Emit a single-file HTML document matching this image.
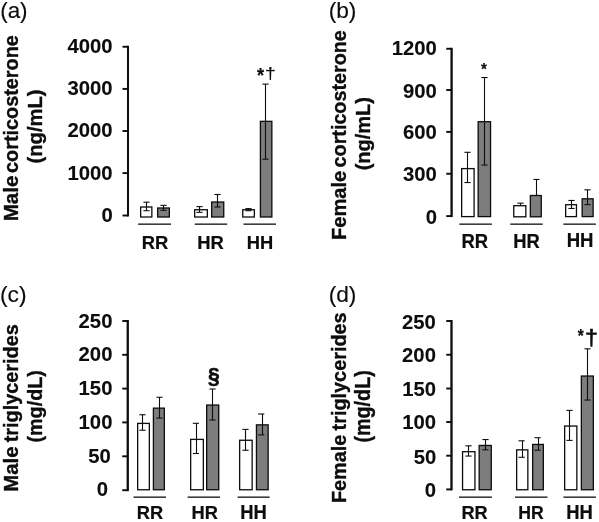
<!DOCTYPE html>
<html lang="en">
<head>
<meta charset="utf-8">
<title>Figure</title>
<style>
html,body{margin:0;padding:0;background:#fff;}
body{width:599px;height:522px;overflow:hidden;}
svg{display:block;}
svg text{font-family:"Liberation Sans", Arial, Helvetica, sans-serif;font-size:20px;fill:#0a0a0a;stroke:#0a0a0a;stroke-width:0.22px;stroke-linejoin:round;}
svg text.n{stroke-width:0.12px;}
svg text.t{stroke-width:0.34px;}
svg text.d{stroke-width:0.08px;}
svg text.s{stroke-width:0.55px;}
</style>
</head>
<body>
<svg width="599" height="522" viewBox="0 0 599 522">
<defs><filter id="soft" x="0" y="0" width="599" height="522" filterUnits="userSpaceOnUse"><feGaussianBlur stdDeviation="0.38"/></filter></defs>
<rect x="0" y="0" width="599" height="522" fill="#ffffff"/>
<g filter="url(#soft)">
<rect x="0" y="0" width="599" height="522" fill="#ffffff"/>
<g shape-rendering="geometricPrecision">
<rect x="127.00" y="45.80" width="2.00" height="170.65" fill="#0a0a0a"/>
<rect x="122.50" y="45.80" width="5.50" height="1.90" fill="#0a0a0a"/>
<rect x="122.50" y="87.95" width="5.50" height="1.90" fill="#0a0a0a"/>
<rect x="122.50" y="130.05" width="5.50" height="1.90" fill="#0a0a0a"/>
<rect x="122.50" y="172.15" width="5.50" height="1.90" fill="#0a0a0a"/>
<rect x="122.50" y="214.55" width="5.50" height="1.90" fill="#0a0a0a"/>
<rect x="450.45" y="47.80" width="2.30" height="169.25" fill="#0a0a0a"/>
<rect x="446.25" y="47.80" width="5.35" height="1.90" fill="#0a0a0a"/>
<rect x="446.25" y="89.05" width="5.35" height="1.90" fill="#0a0a0a"/>
<rect x="446.25" y="130.95" width="5.35" height="1.90" fill="#0a0a0a"/>
<rect x="446.25" y="172.80" width="5.35" height="1.90" fill="#0a0a0a"/>
<rect x="446.25" y="215.15" width="5.35" height="1.90" fill="#0a0a0a"/>
<rect x="126.60" y="320.05" width="2.30" height="171.10" fill="#0a0a0a"/>
<rect x="122.25" y="320.05" width="5.50" height="1.90" fill="#0a0a0a"/>
<rect x="122.25" y="353.85" width="5.50" height="1.90" fill="#0a0a0a"/>
<rect x="122.25" y="387.65" width="5.50" height="1.90" fill="#0a0a0a"/>
<rect x="122.25" y="421.45" width="5.50" height="1.90" fill="#0a0a0a"/>
<rect x="122.25" y="455.35" width="5.50" height="1.90" fill="#0a0a0a"/>
<rect x="122.25" y="489.25" width="5.50" height="1.90" fill="#0a0a0a"/>
<rect x="450.35" y="320.05" width="2.30" height="170.30" fill="#0a0a0a"/>
<rect x="446.25" y="320.05" width="5.25" height="1.90" fill="#0a0a0a"/>
<rect x="446.25" y="353.80" width="5.25" height="1.90" fill="#0a0a0a"/>
<rect x="446.25" y="387.55" width="5.25" height="1.90" fill="#0a0a0a"/>
<rect x="446.25" y="421.05" width="5.25" height="1.90" fill="#0a0a0a"/>
<rect x="446.25" y="454.75" width="5.25" height="1.90" fill="#0a0a0a"/>
<rect x="446.25" y="488.45" width="5.25" height="1.90" fill="#0a0a0a"/>
<rect x="140.65" y="207.00" width="11.20" height="10.00" fill="#ffffff" stroke="#0a0a0a" stroke-width="1.3"/>
<line x1="146.50" y1="202.20" x2="146.50" y2="210.70" stroke="#101010" stroke-width="1.1"/>
<line x1="143.40" y1="202.20" x2="149.60" y2="202.20" stroke="#101010" stroke-width="1.1"/>
<line x1="143.40" y1="210.70" x2="149.60" y2="210.70" stroke="#101010" stroke-width="1.1"/>
<rect x="157.65" y="208.00" width="11.70" height="9.00" fill="#7d7d7d" stroke="#0a0a0a" stroke-width="1.3"/>
<line x1="163.50" y1="205.35" x2="163.50" y2="210.35" stroke="#101010" stroke-width="1.1"/>
<line x1="160.40" y1="205.35" x2="166.60" y2="205.35" stroke="#101010" stroke-width="1.1"/>
<line x1="160.40" y1="210.35" x2="166.60" y2="210.35" stroke="#101010" stroke-width="1.1"/>
<rect x="194.65" y="209.75" width="12.70" height="7.25" fill="#ffffff" stroke="#0a0a0a" stroke-width="1.3"/>
<line x1="199.50" y1="206.60" x2="199.50" y2="212.35" stroke="#101010" stroke-width="1.1"/>
<line x1="196.40" y1="206.60" x2="202.60" y2="206.60" stroke="#101010" stroke-width="1.1"/>
<line x1="196.40" y1="212.35" x2="202.60" y2="212.35" stroke="#101010" stroke-width="1.1"/>
<rect x="211.65" y="202.00" width="12.10" height="15.00" fill="#7d7d7d" stroke="#0a0a0a" stroke-width="1.3"/>
<line x1="217.50" y1="194.50" x2="217.50" y2="207.00" stroke="#101010" stroke-width="1.1"/>
<line x1="214.40" y1="194.50" x2="220.60" y2="194.50" stroke="#101010" stroke-width="1.1"/>
<line x1="214.40" y1="207.00" x2="220.60" y2="207.00" stroke="#101010" stroke-width="1.1"/>
<rect x="242.75" y="209.75" width="11.60" height="7.25" fill="#ffffff" stroke="#0a0a0a" stroke-width="1.3"/>
<line x1="248.50" y1="208.60" x2="248.50" y2="210.70" stroke="#101010" stroke-width="1.1"/>
<line x1="245.40" y1="208.60" x2="251.60" y2="208.60" stroke="#101010" stroke-width="1.1"/>
<line x1="245.40" y1="210.70" x2="251.60" y2="210.70" stroke="#101010" stroke-width="1.1"/>
<rect x="260.40" y="121.35" width="11.45" height="95.65" fill="#7d7d7d" stroke="#0a0a0a" stroke-width="1.3"/>
<line x1="265.50" y1="84.10" x2="265.50" y2="159.20" stroke="#101010" stroke-width="1.1"/>
<line x1="262.40" y1="84.10" x2="268.60" y2="84.10" stroke="#101010" stroke-width="1.1"/>
<line x1="262.40" y1="159.20" x2="268.60" y2="159.20" stroke="#101010" stroke-width="1.1"/>
<rect x="461.65" y="168.60" width="12.45" height="48.00" fill="#ffffff" stroke="#0a0a0a" stroke-width="1.3"/>
<line x1="467.50" y1="152.30" x2="467.50" y2="182.55" stroke="#101010" stroke-width="1.1"/>
<line x1="464.40" y1="152.30" x2="470.60" y2="152.30" stroke="#101010" stroke-width="1.1"/>
<line x1="464.40" y1="182.55" x2="470.60" y2="182.55" stroke="#101010" stroke-width="1.1"/>
<rect x="478.15" y="121.70" width="12.40" height="94.90" fill="#7d7d7d" stroke="#0a0a0a" stroke-width="1.3"/>
<line x1="484.50" y1="77.55" x2="484.50" y2="165.05" stroke="#101010" stroke-width="1.1"/>
<line x1="481.40" y1="77.55" x2="487.60" y2="77.55" stroke="#101010" stroke-width="1.1"/>
<line x1="481.40" y1="165.05" x2="487.60" y2="165.05" stroke="#101010" stroke-width="1.1"/>
<rect x="513.75" y="205.70" width="12.10" height="11.10" fill="#ffffff" stroke="#0a0a0a" stroke-width="1.3"/>
<line x1="520.50" y1="203.15" x2="520.50" y2="205.55" stroke="#101010" stroke-width="1.1"/>
<line x1="517.40" y1="203.15" x2="523.60" y2="203.15" stroke="#101010" stroke-width="1.1"/>
<rect x="530.35" y="195.50" width="10.90" height="21.30" fill="#7d7d7d" stroke="#0a0a0a" stroke-width="1.3"/>
<line x1="536.50" y1="179.45" x2="536.50" y2="195.55" stroke="#101010" stroke-width="1.1"/>
<line x1="533.40" y1="179.45" x2="539.60" y2="179.45" stroke="#101010" stroke-width="1.1"/>
<rect x="565.65" y="204.70" width="10.80" height="11.90" fill="#ffffff" stroke="#0a0a0a" stroke-width="1.3"/>
<line x1="571.50" y1="200.45" x2="571.50" y2="208.45" stroke="#101010" stroke-width="1.1"/>
<line x1="568.40" y1="200.45" x2="574.60" y2="200.45" stroke="#101010" stroke-width="1.1"/>
<line x1="568.40" y1="208.45" x2="574.60" y2="208.45" stroke="#101010" stroke-width="1.1"/>
<rect x="582.15" y="198.80" width="10.95" height="17.80" fill="#7d7d7d" stroke="#0a0a0a" stroke-width="1.3"/>
<line x1="587.50" y1="189.80" x2="587.50" y2="204.65" stroke="#101010" stroke-width="1.1"/>
<line x1="584.40" y1="189.80" x2="590.60" y2="189.80" stroke="#101010" stroke-width="1.1"/>
<line x1="584.40" y1="204.65" x2="590.60" y2="204.65" stroke="#101010" stroke-width="1.1"/>
<rect x="137.65" y="423.40" width="11.70" height="66.35" fill="#ffffff" stroke="#0a0a0a" stroke-width="1.3"/>
<line x1="142.50" y1="414.75" x2="142.50" y2="430.25" stroke="#101010" stroke-width="1.1"/>
<line x1="139.40" y1="414.75" x2="145.60" y2="414.75" stroke="#101010" stroke-width="1.1"/>
<line x1="139.40" y1="430.25" x2="145.60" y2="430.25" stroke="#101010" stroke-width="1.1"/>
<rect x="153.40" y="408.15" width="10.95" height="81.60" fill="#7d7d7d" stroke="#0a0a0a" stroke-width="1.3"/>
<line x1="159.50" y1="397.25" x2="159.50" y2="418.10" stroke="#101010" stroke-width="1.1"/>
<line x1="156.40" y1="397.25" x2="162.60" y2="397.25" stroke="#101010" stroke-width="1.1"/>
<line x1="156.40" y1="418.10" x2="162.60" y2="418.10" stroke="#101010" stroke-width="1.1"/>
<rect x="190.65" y="439.40" width="12.70" height="50.35" fill="#ffffff" stroke="#0a0a0a" stroke-width="1.3"/>
<line x1="196.50" y1="423.30" x2="196.50" y2="453.50" stroke="#101010" stroke-width="1.1"/>
<line x1="192.80" y1="423.30" x2="199.00" y2="423.30" stroke="#101010" stroke-width="1.1"/>
<line x1="192.80" y1="453.50" x2="199.00" y2="453.50" stroke="#101010" stroke-width="1.1"/>
<rect x="206.65" y="405.05" width="12.10" height="84.70" fill="#7d7d7d" stroke="#0a0a0a" stroke-width="1.3"/>
<line x1="212.50" y1="389.00" x2="212.50" y2="420.00" stroke="#101010" stroke-width="1.1"/>
<line x1="209.40" y1="389.00" x2="215.60" y2="389.00" stroke="#101010" stroke-width="1.1"/>
<line x1="209.40" y1="420.00" x2="215.60" y2="420.00" stroke="#101010" stroke-width="1.1"/>
<rect x="239.65" y="440.25" width="12.50" height="49.50" fill="#ffffff" stroke="#0a0a0a" stroke-width="1.3"/>
<line x1="245.50" y1="429.40" x2="245.50" y2="450.25" stroke="#101010" stroke-width="1.1"/>
<line x1="242.40" y1="429.40" x2="248.60" y2="429.40" stroke="#101010" stroke-width="1.1"/>
<line x1="242.40" y1="450.25" x2="248.60" y2="450.25" stroke="#101010" stroke-width="1.1"/>
<rect x="256.45" y="424.85" width="11.70" height="64.90" fill="#7d7d7d" stroke="#0a0a0a" stroke-width="1.3"/>
<line x1="262.50" y1="414.00" x2="262.50" y2="434.90" stroke="#101010" stroke-width="1.1"/>
<line x1="258.10" y1="414.00" x2="264.30" y2="414.00" stroke="#101010" stroke-width="1.1"/>
<line x1="258.10" y1="434.90" x2="264.30" y2="434.90" stroke="#101010" stroke-width="1.1"/>
<rect x="462.55" y="451.70" width="12.40" height="38.05" fill="#ffffff" stroke="#0a0a0a" stroke-width="1.3"/>
<line x1="468.50" y1="445.80" x2="468.50" y2="456.05" stroke="#101010" stroke-width="1.1"/>
<line x1="465.40" y1="445.80" x2="471.60" y2="445.80" stroke="#101010" stroke-width="1.1"/>
<line x1="465.40" y1="456.05" x2="471.60" y2="456.05" stroke="#101010" stroke-width="1.1"/>
<rect x="479.15" y="445.45" width="12.10" height="44.30" fill="#7d7d7d" stroke="#0a0a0a" stroke-width="1.3"/>
<line x1="485.50" y1="439.55" x2="485.50" y2="449.80" stroke="#101010" stroke-width="1.1"/>
<line x1="482.40" y1="439.55" x2="488.60" y2="439.55" stroke="#101010" stroke-width="1.1"/>
<line x1="482.40" y1="449.80" x2="488.60" y2="449.80" stroke="#101010" stroke-width="1.1"/>
<rect x="516.65" y="449.85" width="11.20" height="39.90" fill="#ffffff" stroke="#0a0a0a" stroke-width="1.3"/>
<line x1="522.50" y1="440.80" x2="522.50" y2="457.30" stroke="#101010" stroke-width="1.1"/>
<line x1="518.50" y1="440.80" x2="524.70" y2="440.80" stroke="#101010" stroke-width="1.1"/>
<line x1="518.50" y1="457.30" x2="524.70" y2="457.30" stroke="#101010" stroke-width="1.1"/>
<rect x="532.65" y="444.45" width="10.70" height="45.30" fill="#7d7d7d" stroke="#0a0a0a" stroke-width="1.3"/>
<line x1="538.50" y1="437.70" x2="538.50" y2="450.20" stroke="#101010" stroke-width="1.1"/>
<line x1="534.50" y1="437.70" x2="540.70" y2="437.70" stroke="#101010" stroke-width="1.1"/>
<line x1="534.50" y1="450.20" x2="540.70" y2="450.20" stroke="#101010" stroke-width="1.1"/>
<rect x="564.65" y="426.05" width="12.20" height="63.70" fill="#ffffff" stroke="#0a0a0a" stroke-width="1.3"/>
<line x1="569.50" y1="410.40" x2="569.50" y2="440.40" stroke="#101010" stroke-width="1.1"/>
<line x1="566.40" y1="410.40" x2="572.60" y2="410.40" stroke="#101010" stroke-width="1.1"/>
<line x1="566.40" y1="440.40" x2="572.60" y2="440.40" stroke="#101010" stroke-width="1.1"/>
<rect x="581.35" y="376.05" width="12.00" height="113.70" fill="#7d7d7d" stroke="#0a0a0a" stroke-width="1.3"/>
<line x1="587.50" y1="348.80" x2="587.50" y2="400.05" stroke="#101010" stroke-width="1.1"/>
<line x1="584.40" y1="348.80" x2="590.60" y2="348.80" stroke="#101010" stroke-width="1.1"/>
<line x1="584.40" y1="400.05" x2="590.60" y2="400.05" stroke="#101010" stroke-width="1.1"/>
</g>
<g>
<text transform="translate(0.153,17.997) scale(1.1227,1.1436)" class="n">(a)</text>
<text transform="translate(328.636,17.947) scale(1.1364,1.1436)" class="n">(b)</text>
<text transform="translate(-0.120,301.753) scale(1.1418,1.1303)" class="n">(c)</text>
<text transform="translate(328.636,301.831) scale(1.1364,1.1117)" class="n">(d)</text>
<text transform="translate(41.644,163.407) rotate(-90) scale(1.0070,1.0372)" font-weight="bold" class="t">(ng/mL)</text>
<text transform="translate(370.066,170.300) rotate(-90) scale(1.0000,1.0319)" font-weight="bold" class="t">(ng/mL)</text>
<text transform="translate(41.711,442.589) rotate(-90) scale(0.9888,1.0213)" font-weight="bold" class="t">(mg/dL)</text>
<text transform="translate(370.232,442.589) rotate(-90) scale(0.9888,1.0638)" font-weight="bold" class="t">(mg/dL)</text>
<text transform="translate(17.700,221.343) rotate(-90) scale(1.0307,1.0500)" font-weight="bold" class="t">Male</text>
<text transform="translate(17.700,172.994) rotate(-90) scale(0.9927,1.0500)" font-weight="bold" class="t">corticosterone</text>
<text transform="translate(346.000,240.110) rotate(-90) scale(1.0075,1.0500)" font-weight="bold" class="t">Female</text>
<text transform="translate(346.000,167.390) rotate(-90) scale(0.9876,1.0500)" font-weight="bold" class="t">corticosterone</text>
<text transform="translate(17.700,491.726) rotate(-90) scale(1.0189,1.0500)" font-weight="bold" class="t">Male</text>
<text transform="translate(17.700,442.299) rotate(-90) scale(0.9932,1.0500)" font-weight="bold" class="t">triglycerides</text>
<text transform="translate(346.200,503.090) rotate(-90) scale(0.9925,1.0500)" font-weight="bold" class="t">Female</text>
<text transform="translate(346.200,430.398) rotate(-90) scale(0.9924,1.0500)" font-weight="bold" class="t">triglycerides</text>
<text transform="translate(67.496,52.956) scale(1.0150,0.9718)" font-weight="bold" class="d">4000</text>
<text transform="translate(67.496,95.406) scale(1.0150,0.9718)" font-weight="bold" class="d">3000</text>
<text transform="translate(67.496,137.206) scale(1.0150,0.9718)" font-weight="bold" class="d">2000</text>
<text transform="translate(67.496,179.606) scale(1.0150,0.9718)" font-weight="bold" class="d">1000</text>
<text transform="translate(101.397,222.306) scale(1.0150,0.9718)" font-weight="bold" class="d">0</text>
<text transform="translate(391.746,54.806) scale(1.0150,0.9718)" font-weight="bold" class="d">1200</text>
<text transform="translate(402.911,97.956) scale(1.0150,0.9718)" font-weight="bold" class="d">900</text>
<text transform="translate(402.911,139.406) scale(1.0150,0.9718)" font-weight="bold" class="d">600</text>
<text transform="translate(402.911,181.306) scale(1.0150,0.9718)" font-weight="bold" class="d">300</text>
<text transform="translate(425.647,223.706) scale(1.0150,0.9718)" font-weight="bold" class="d">0</text>
<text transform="translate(78.561,328.306) scale(1.0150,0.9718)" font-weight="bold" class="d">250</text>
<text transform="translate(78.561,361.106) scale(1.0150,0.9718)" font-weight="bold" class="d">200</text>
<text transform="translate(78.561,395.456) scale(1.0150,0.9718)" font-weight="bold" class="d">150</text>
<text transform="translate(78.561,428.706) scale(1.0150,0.9718)" font-weight="bold" class="d">100</text>
<text transform="translate(88.279,463.106) scale(1.0150,0.9718)" font-weight="bold" class="d">50</text>
<text transform="translate(96.647,496.206) scale(1.0150,0.9718)" font-weight="bold" class="d">0</text>
<text transform="translate(401.911,328.806) scale(1.0150,0.9718)" font-weight="bold" class="d">250</text>
<text transform="translate(402.061,361.706) scale(1.0150,0.9718)" font-weight="bold" class="d">200</text>
<text transform="translate(402.261,396.106) scale(1.0150,0.9718)" font-weight="bold" class="d">150</text>
<text transform="translate(402.261,429.406) scale(1.0150,0.9718)" font-weight="bold" class="d">100</text>
<text transform="translate(413.629,463.606) scale(1.0150,0.9718)" font-weight="bold" class="d">50</text>
<text transform="translate(424.647,496.706) scale(1.0150,0.9718)" font-weight="bold" class="d">0</text>
<text transform="translate(141.709,248.500) scale(0.9222,0.9638)" font-weight="bold">RR</text>
<text transform="translate(197.209,248.500) scale(0.9222,0.9638)" font-weight="bold">HR</text>
<text transform="translate(246.718,248.500) scale(0.9160,0.9638)" font-weight="bold">HH</text>
<text transform="translate(461.456,248.450) scale(0.9241,0.9964)" font-weight="bold">RR</text>
<text transform="translate(513.211,248.450) scale(0.9204,1.0254)" font-weight="bold">HR</text>
<text transform="translate(566.699,247.200) scale(0.9294,0.9964)" font-weight="bold">HH</text>
<text transform="translate(136.719,519.000) scale(0.9148,0.9493)" font-weight="bold">RR</text>
<text transform="translate(191.619,519.000) scale(0.9148,0.9638)" font-weight="bold">HR</text>
<text transform="translate(240.212,519.000) scale(0.9198,0.9638)" font-weight="bold">HH</text>
<text transform="translate(461.474,519.200) scale(0.9111,0.9493)" font-weight="bold">RR</text>
<text transform="translate(518.263,519.100) scale(0.8833,0.9565)" font-weight="bold">HR</text>
<text transform="translate(566.312,518.950) scale(0.9198,0.9783)" font-weight="bold">HH</text>
<text transform="translate(256.900,81.703) scale(0.9103,1.0473)" font-weight="bold">*</text>
<text transform="translate(264.833,79.051) scale(1.0119,0.7911)" class="n">†</text>
<text transform="translate(481.000,74.849) scale(0.7564,0.8514)" font-weight="bold">*</text>
<text transform="translate(207.969,383.288) scale(1.0521,1.1420)" font-weight="bold" class="s">§</text>
<text transform="translate(577.750,341.872) scale(0.7692,0.8784)" font-weight="bold">*</text>
<text transform="translate(584.875,345.201) scale(1.1607,1.0823)" class="s">†</text>
</g>
</g>
<g>
<rect x="138.10" y="223.50" width="32.90" height="1.3" fill="#101010"/>
<rect x="194.75" y="223.50" width="32.50" height="1.3" fill="#101010"/>
<rect x="243.50" y="223.50" width="32.50" height="1.3" fill="#101010"/>
<rect x="459.40" y="223.50" width="32.50" height="1.3" fill="#101010"/>
<rect x="510.25" y="223.50" width="32.50" height="1.3" fill="#101010"/>
<rect x="563.40" y="223.50" width="32.50" height="1.3" fill="#101010"/>
<rect x="133.50" y="496.50" width="32.50" height="1.3" fill="#101010"/>
<rect x="187.60" y="496.50" width="32.40" height="1.3" fill="#101010"/>
<rect x="237.60" y="496.50" width="32.00" height="1.3" fill="#101010"/>
<rect x="459.00" y="496.50" width="32.90" height="1.3" fill="#101010"/>
<rect x="515.00" y="496.50" width="32.50" height="1.3" fill="#101010"/>
<rect x="563.40" y="496.50" width="32.50" height="1.3" fill="#101010"/>
</g>
</svg>
</body>
</html>
